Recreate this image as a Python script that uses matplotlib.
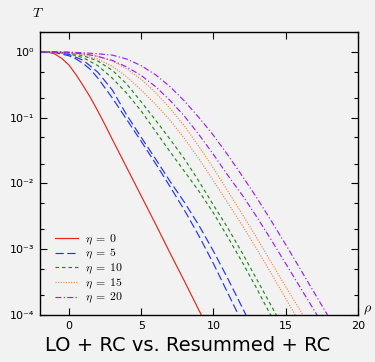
import numpy as np
import matplotlib
matplotlib.use("Agg")
import matplotlib.pyplot as plt
from matplotlib.ticker import FixedLocator, FuncFormatter

plt.rcParams["mathtext.fontset"] = "cm"

# values: rho, log10(T)
rho_red = [-2, -1.5, -1, -0.5, 0, 0.5, 1, 1.5, 2, 2.5, 3, 4, 5, 6, 7, 8, 9, 9.5]
lgT_red = [0, -0.005, -0.03, -0.1, -0.2, -0.35, -0.52, -0.7, -0.9, -1.11, -1.33, -1.76, -2.19, -2.62, -3.06, -3.49, -3.93, -4.14]

rho_b1 = [-2, -1, 0, 0.5, 1, 1.5, 2, 3, 4, 5, 6, 7, 8, 9, 10, 11, 12]
lgT_b1 = [0, -0.01, -0.06, -0.11, -0.18, -0.27, -0.40, -0.70, -1.03, -1.36, -1.70, -2.05, -2.41, -2.80, -3.22, -3.67, -4.12]
rho_b2 = [-2, -1, 0, 1, 2, 3, 4, 5, 6, 7, 8, 9, 10, 11, 12, 12.5]
lgT_b2 = [0, -0.005, -0.04, -0.13, -0.31, -0.58, -0.96, -1.3, -1.63, -1.97, -2.29, -2.64, -3.03, -3.45, -3.89, -4.11]

rho_g1 = [-2, -1, 0, 1, 2, 3, 4, 5, 6, 7, 8, 9, 10, 11, 12, 13, 14, 14.5]
lgT_g1 = [0, -0.005, -0.03, -0.09, -0.21, -0.40, -0.63, -0.9, -1.21, -1.52, -1.82, -2.12, -2.45, -2.82, -3.2, -3.6, -4.02, -4.22]
rho_g2 = [-2, -1, 0, 1, 2, 3, 4, 5, 6, 7, 8, 9, 10, 11, 12, 13, 14, 14.6]
lgT_g2 = [0, -0.003, -0.02, -0.06, -0.14, -0.28, -0.49, -0.76, -1.04, -1.33, -1.63, -1.97, -2.33, -2.68, -3.06, -3.46, -3.86, -4.1]

rho_o1 = [-2, -1, 0, 1, 2, 3, 4, 5, 6, 7, 8, 9, 10, 11, 12, 13, 14, 15, 16]
lgT_o1 = [0, -0.003, -0.02, -0.05, -0.11, -0.22, -0.38, -0.58, -0.8, -1.04, -1.32, -1.63, -1.96, -2.30, -2.64, -3.0, -3.37, -3.75, -4.13]
rho_o2 = [-2, -1, 0, 1, 2, 3, 4, 5, 6, 7, 8, 9, 10, 11, 12, 13, 14, 15, 16, 16.5]
lgT_o2 = [0, -0.002, -0.01, -0.03, -0.07, -0.14, -0.26, -0.42, -0.62, -0.86, -1.13, -1.44, -1.77, -2.12, -2.47, -2.83, -3.2, -3.57, -3.93, -4.12]

rho_p1 = [-2, -1, 0, 1, 2, 3, 4, 5, 6, 7, 8, 9, 10, 11, 12, 13, 14, 15, 16, 17, 17.5]
lgT_p1 = [0, -0.002, -0.01, -0.03, -0.07, -0.13, -0.23, -0.36, -0.53, -0.74, -0.98, -1.26, -1.56, -1.88, -2.18, -2.51, -2.86, -3.22, -3.58, -3.94, -4.12]
rho_p2 = [-2, 0, 1, 2, 3, 4, 5, 6, 7, 8, 9, 10, 11, 12, 13, 14, 15, 16, 17, 18]
lgT_p2 = [0, -0.005, -0.015, -0.03, -0.05, -0.11, -0.21, -0.35, -0.53, -0.75, -1.0, -1.27, -1.57, -1.89, -2.22, -2.57, -2.93, -3.3, -3.67, -4.04]

etas = [0, 5, 10, 15, 20]
curves = [
    [(rho_red, lgT_red)],
    [(rho_b1, lgT_b1), (rho_b2, lgT_b2)],
    [(rho_g1, lgT_g1), (rho_g2, lgT_g2)],
    [(rho_o1, lgT_o1), (rho_o2, lgT_o2)],
    [(rho_p1, lgT_p1), (rho_p2, lgT_p2)],
]
colors = ["#e8261f", "#2233ff", "#1e8a1e", "#f08a4b", "#a020f0"]
styles = ["-", (0, (7, 3)), (0, (3, 2.5)), (0, (1, 1.2)), (0, (5, 2, 1, 2))]

sup = {"0": "\u2070", "1": "\u00b9", "2": "\u00b2", "3": "\u00b3", "4": "\u2074", "-": "\u207b"}

def ylab(v, p):
    e = str(int(round(np.log10(v))))
    return "10" + "".join(sup[ch] for ch in e)

bg = "#f2f2f2"
fig = plt.figure(figsize=(3.75, 3.62), dpi=100, facecolor=bg)
ax = fig.add_axes([0.1067, 0.1298, 0.848, 0.7818], facecolor=bg)

for eta, pair, c, ls in zip(etas, curves, colors, styles):
    for k, (r, lg) in enumerate(pair):
        ax.plot(r, 10 ** np.array(lg), color=c, ls=ls, lw=0.85,
                label=r"$\eta\;=\;%d$" % eta if k == 0 else None)

ax.set_yscale("log")
ax.set_xlim(-2, 20)
ax.set_ylim(1e-4, 2)

ax.xaxis.set_major_locator(FixedLocator([0, 5, 10, 15, 20]))
ax.yaxis.set_major_locator(FixedLocator([1e-4, 1e-3, 1e-2, 1e-1, 1]))
minors = [m * 10.0 ** e for e in range(-4, 1) for m in (2, 5)]
ax.yaxis.set_minor_locator(FixedLocator(minors))
ax.yaxis.set_minor_formatter(FuncFormatter(lambda v, p: ""))
ax.yaxis.set_major_formatter(FuncFormatter(ylab))
ax.xaxis.set_major_formatter(FuncFormatter(lambda v, p: "%d" % v))

ax.tick_params(which="both", direction="in", top=True, right=True, labelsize=8, width=0.8)
ax.tick_params(which="major", length=5, pad=4)
ax.tick_params(which="minor", length=3)
for s in ax.spines.values():
    s.set_linewidth(1.0)

fig.text(0.085, 0.965, r"$T$", fontsize=10, ha="left", va="center")
fig.text(0.98, 0.143, r"$\rho$", fontsize=10, ha="center", va="center")
fig.text(0.5, 0.045, "LO + RC vs. Resummed + RC", fontsize=14, ha="center", va="center")

ax.legend(loc="lower left", bbox_to_anchor=(0.02, 0.005), frameon=False,
          fontsize=8.5, handlelength=2.0, handletextpad=0.6, labelspacing=0.0,
          borderpad=0.2)

fig.savefig("out.png", dpi=100, facecolor=bg)
